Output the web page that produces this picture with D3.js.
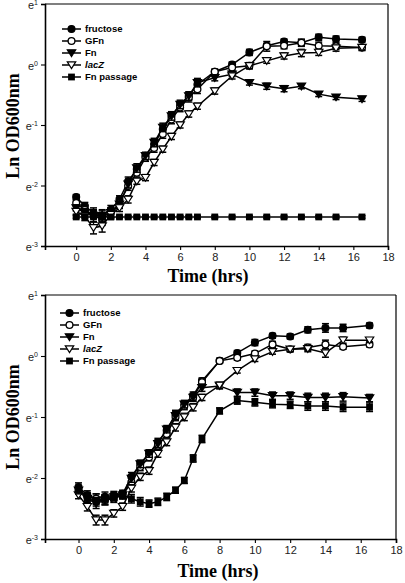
<!DOCTYPE html>
<html><head><meta charset="utf-8">
<script src="https://cdn.jsdelivr.net/npm/d3@7"></script>
<style>body{margin:0;background:#fff}svg{display:block}</style>
</head><body>
<script>
// Shared
const hours = [0,0.5,1,1.5,2,2.5,3,3.5,4,4.5,5,5.5,6,6.5,7,8,9,10,11,12,13,14,15,16.5];
const seriesNames = ["fructose","GFn","Fn","lacZ","Fn passage"];
const xTicks = [0,2,4,6,8,10,12,14,16,18];
const yTicks = [1,0,-1,-2,-3];

// Panel A (top) values in ln(OD600)
const topFructose = [-2.19,-2.34,-2.45,-2.5,-2.4,-2.23,-1.93,-1.73,-1.51,-1.32,-1.07,-0.85,-0.67,-0.52,-0.33,-0.12,0.0,0.2,0.31,0.38,0.36,0.45,0.42,0.41];
const topGFn = [-2.29,-2.4,-2.5,-2.56,-2.45,-2.29,-2.01,-1.79,-1.54,-1.38,-1.15,-0.91,-0.71,-0.55,-0.41,-0.12,-0.05,-0.02,0.3,0.31,0.36,0.31,0.3,0.28];
const topFn = [-2.37,-2.45,-2.5,-2.5,-2.45,-2.31,-1.98,-1.71,-1.51,-1.29,-1.04,-0.85,-0.66,-0.52,-0.3,-0.22,-0.16,-0.3,-0.36,-0.4,-0.36,-0.49,-0.54,-0.57];
const topLacZ = [-2.43,-2.51,-2.7,-2.67,-2.48,-2.37,-2.23,-1.93,-1.87,-1.62,-1.4,-1.19,-1.0,-0.82,-0.69,-0.44,-0.19,-0.02,0.06,0.14,0.19,0.2,0.27,0.28];
const topPassage = [-2.52,-2.52,-2.52,-2.52,-2.52,-2.52,-2.52,-2.52,-2.52,-2.52,-2.52,-2.52,-2.52,-2.52,-2.52,-2.52,-2.52,-2.52,-2.52,-2.52,-2.52,-2.52,-2.52,-2.52];
const topFructoseErr = [0.04,0.06,0.08,0.08,0.07,0.06,0.07,0.06,0.05,0.06,0.06,0.06,0.06,0.06,0.06,0.04,0.04,0.05,0.04,0.04,0.05,0.05,0.05,0.04];
const topGFnErr = [0.05,0.07,0.1,0.1,0.08,0.07,0.07,0.07,0.06,0.07,0.07,0.07,0.07,0.07,0.07,0.04,0.05,0.05,0.08,0.05,0.06,0.06,0.05,0.05];
const topFnErr = [0.05,0.07,0.1,0.1,0.08,0.07,0.06,0.07,0.06,0.07,0.07,0.07,0.07,0.07,0.07,0.05,0.04,0.04,0.05,0.05,0.04,0.04,0.04,0.04];
const topLacZErr = [0.05,0.07,0.1,0.1,0.08,0.06,0.06,0.05,0.05,0.05,0.05,0.05,0.05,0.05,0.05,0.05,0.05,0.05,0.04,0.05,0.06,0.05,0.05,0.04];
const topPassageErr = [0.02,0.02,0.02,0.02,0.02,0.02,0.02,0.02,0.02,0.02,0.02,0.02,0.02,0.02,0.02,0.02,0.02,0.02,0.02,0.02,0.02,0.02,0.02,0.02];

// Panel B (bottom) values in ln(OD600)
const botFructose = [-2.15,-2.28,-2.34,-2.31,-2.28,-2.26,-1.98,-1.77,-1.6,-1.41,-1.22,-0.95,-0.79,-0.65,-0.41,-0.08,0.05,0.22,0.33,0.32,0.43,0.46,0.46,0.5];
const botGFn = [-2.2,-2.31,-2.34,-2.36,-2.34,-2.28,-2.07,-1.82,-1.66,-1.47,-1.28,-1.0,-0.82,-0.68,-0.43,-0.08,-0.03,0.04,0.19,0.11,0.14,0.19,0.15,0.19];
const botFn = [-2.2,-2.34,-2.42,-2.36,-2.31,-2.28,-2.01,-1.77,-1.6,-1.44,-1.2,-0.98,-0.79,-0.68,-0.52,-0.49,-0.6,-0.6,-0.65,-0.65,-0.68,-0.68,-0.67,-0.69];
const botLacZ = [-2.28,-2.47,-2.69,-2.69,-2.58,-2.47,-2.17,-1.98,-1.88,-1.6,-1.41,-1.17,-1.0,-0.84,-0.68,-0.48,-0.24,-0.05,0.07,0.11,0.12,0.05,0.26,0.26];
const botPassage = [-2.2,-2.31,-2.39,-2.34,-2.31,-2.28,-2.34,-2.39,-2.42,-2.39,-2.31,-2.2,-2.04,-1.68,-1.36,-0.9,-0.73,-0.76,-0.79,-0.8,-0.82,-0.82,-0.84,-0.84];
const botFructoseErr = [0.07,0.07,0.08,0.08,0.06,0.06,0.07,0.06,0.06,0.06,0.06,0.06,0.06,0.06,0.05,0.04,0.04,0.05,0.04,0.04,0.05,0.07,0.06,0.04];
const botGFnErr = [0.06,0.07,0.08,0.08,0.06,0.06,0.06,0.06,0.06,0.06,0.06,0.06,0.06,0.06,0.05,0.04,0.04,0.04,0.05,0.04,0.05,0.07,0.04,0.04];
const botFnErr = [0.06,0.07,0.08,0.08,0.06,0.06,0.06,0.06,0.06,0.06,0.06,0.06,0.06,0.06,0.06,0.05,0.06,0.06,0.06,0.06,0.07,0.07,0.07,0.06];
const botLacZErr = [0.06,0.07,0.08,0.08,0.06,0.06,0.06,0.06,0.06,0.06,0.06,0.06,0.06,0.06,0.05,0.05,0.04,0.04,0.04,0.04,0.05,0.07,0.05,0.04];
const botPassageErr = [0.06,0.06,0.07,0.07,0.06,0.06,0.07,0.07,0.06,0.06,0.06,0.05,0.05,0.06,0.06,0.05,0.06,0.06,0.06,0.06,0.07,0.07,0.07,0.07];

const W = 405, H = 583;
const svg = d3.select("body").append("svg").attr("width", W).attr("height", H);

const markerTypes = ["circleFill","circleOpen","triDownFill","triDownOpen","squareFill"];

function drawMarker(g, type, x, y) {
  if (type === "circleFill" || type === "circleOpen") {
    g.append("circle").attr("cx", x).attr("cy", y).attr("r", 3.4)
      .attr("fill", type === "circleFill" ? "#000" : "#fff")
      .attr("stroke", "#000").attr("stroke-width", 1.3);
  } else if (type === "triDownFill" || type === "triDownOpen") {
    const s = 4.2;
    g.append("path")
      .attr("d", `M${x - s},${y - s * 0.75}L${x + s},${y - s * 0.75}L${x},${y + s * 0.85}Z`)
      .attr("fill", type === "triDownFill" ? "#000" : "#fff")
      .attr("stroke", "#000").attr("stroke-width", 1.2);
  } else {
    g.append("rect").attr("x", x - 3.4).attr("y", y - 3.4).attr("width", 6.8).attr("height", 6.8)
      .attr("fill", "#000");
  }
}

function panel(cfg) {
  const x = d3.scaleLinear().domain(cfg.xDomain).range([cfg.left, cfg.right]);
  const y = d3.scaleLinear().domain([-3, 1]).range([cfg.bottom, cfg.top]);
  const g = svg.append("g");

  // frame top/right
  g.append("line").attr("x1", cfg.left).attr("x2", cfg.right).attr("y1", cfg.top).attr("y2", cfg.top)
    .attr("stroke", "#000").attr("stroke-width", 1.2);
  g.append("line").attr("x1", cfg.right).attr("x2", cfg.right).attr("y1", cfg.top).attr("y2", cfg.bottom)
    .attr("stroke", "#000").attr("stroke-width", 1.2);

  // axes
  const xAxis = d3.axisBottom(x).tickValues(xTicks).tickSize(4).tickFormat(d3.format("d"));
  const gx = g.append("g").attr("transform", `translate(0,${cfg.bottom})`).call(xAxis);
  gx.select(".domain").attr("stroke-width", 1.6);
  gx.selectAll(".tick line").attr("stroke-width", 1.1);
  gx.selectAll("text").attr("font-family", "Liberation Sans, Arial, sans-serif")
    .attr("font-size", 11).attr("fill", "#222").attr("dy", "0.85em").attr("y", 6);

  const yAxis = d3.axisLeft(y).tickValues(yTicks).tickSize(4).tickFormat("");
  const gy = g.append("g").attr("transform", `translate(${cfg.left},0)`).call(yAxis);
  gy.select(".domain").attr("stroke-width", 1.6);
  gy.selectAll(".tick line").attr("stroke-width", 1.1);
  gy.selectAll(".tick").each(function (d) {
    const t = d3.select(this).append("text").attr("x", -7).attr("dy", "0.45em")
      .attr("text-anchor", "end").attr("font-family", "Liberation Sans, Arial, sans-serif")
      .attr("font-size", 11).attr("fill", "#222");
    t.append("tspan").text("e");
    t.append("tspan").attr("font-size", 7).attr("dy", "-0.6em").text(String(d).replace("-", "-"));
  });

  // axis titles
  g.append("text").attr("x", cfg.xTitleX).attr("y", cfg.xTitleY).attr("text-anchor", "middle")
    .attr("font-family", "Liberation Serif, Times New Roman, serif").attr("font-weight", "bold")
    .attr("font-size", 18).attr("fill", "#000").text("Time (hrs)");
  g.append("text").attr("transform", `translate(${cfg.yTitleX},${cfg.yTitleY}) rotate(-90)`)
    .attr("text-anchor", "middle")
    .attr("font-family", "Liberation Serif, Times New Roman, serif").attr("font-weight", "bold")
    .attr("font-size", 18).attr("fill", "#000").text("Ln OD600nm");

  // series
  const line = d3.line().x(d => x(d[0])).y(d => y(d[1]));
  cfg.series.forEach((vals, i) => {
    const errs = cfg.errors[i];
    const pts = hours.map((h, k) => [h, vals[k]]);
    const sg = g.append("g");
    sg.append("path").attr("d", line(pts)).attr("fill", "none").attr("stroke", "#000").attr("stroke-width", 1.5);
    pts.forEach((p, k) => {
      const cx = x(p[0]), y1 = y(p[1] + errs[k]), y2 = y(p[1] - errs[k]);
      sg.append("line").attr("x1", cx).attr("x2", cx).attr("y1", y1).attr("y2", y2).attr("stroke", "#000").attr("stroke-width", 1.3);
      sg.append("line").attr("x1", cx - 3.5).attr("x2", cx + 3.5).attr("y1", y1).attr("y2", y1).attr("stroke", "#000").attr("stroke-width", 1.5);
      sg.append("line").attr("x1", cx - 3.5).attr("x2", cx + 3.5).attr("y1", y2).attr("y2", y2).attr("stroke", "#000").attr("stroke-width", 1.5);
    });
    pts.forEach(p => drawMarker(sg, markerTypes[i], x(p[0]), y(p[1])));
  });

  // legend
  const lg = g.append("g");
  seriesNames.forEach((name, i) => {
    const ly = cfg.legendY + i * 12;
    lg.append("line").attr("x1", cfg.legendX).attr("x2", cfg.legendX + 19).attr("y1", ly).attr("y2", ly)
      .attr("stroke", "#000").attr("stroke-width", 1.5);
    drawMarker(lg, markerTypes[i], cfg.legendX + 9.5, ly);
    lg.append("text").attr("x", cfg.legendX + 23).attr("y", ly).attr("dy", "0.35em")
      .attr("font-family", "Liberation Sans, Arial, sans-serif").attr("font-weight", "bold")
      .attr("font-size", 9.5).attr("fill", "#000")
      .attr("font-style", name === "lacZ" ? "italic" : "normal").text(name);
  });
}

panel({
  left: 45, right: 388, top: 4, bottom: 246, xDomain: [-1.8, 18],
  xTitleX: 208, xTitleY: 282, yTitleX: 19, yTitleY: 126,
  legendX: 62, legendY: 29,
  series: [topFructose, topGFn, topFn, topLacZ, topPassage],
  errors: [topFructoseErr, topGFnErr, topFnErr, topLacZErr, topPassageErr]
});
panel({
  left: 45, right: 396, top: 295, bottom: 539, xDomain: [-1.9, 18],
  xTitleX: 218, xTitleY: 577, yTitleX: 19, yTitleY: 417,
  legendX: 60, legendY: 313,
  series: [botFructose, botGFn, botFn, botLacZ, botPassage],
  errors: [botFructoseErr, botGFnErr, botFnErr, botLacZErr, botPassageErr]
});
</script>
</body></html>
